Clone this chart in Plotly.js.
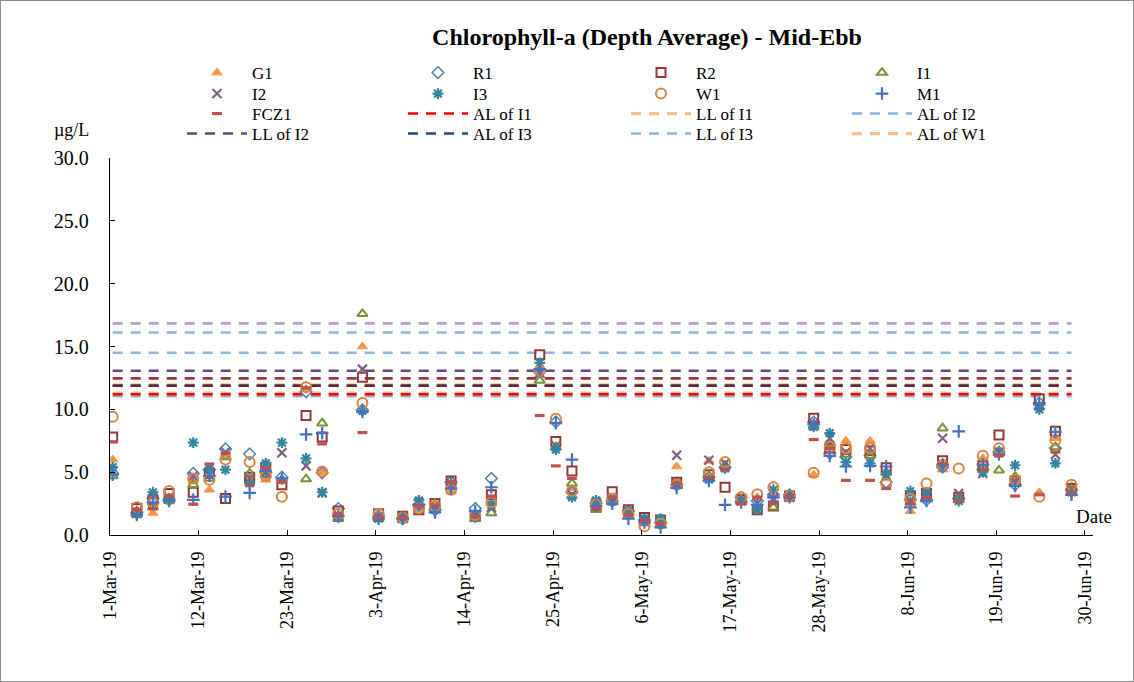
<!DOCTYPE html>
<html><head><meta charset="utf-8">
<script src="https://cdn.plot.ly/plotly-3.0.1.min.js"></script>
<style>
html,body{margin:0;padding:0;background:#fff}
#chart{width:1134px;height:682px;position:absolute;left:0;top:0}
#frame{position:absolute;left:0;top:0;width:1134px;height:682px;box-sizing:border-box;border:1px solid #8c8c8c;pointer-events:none}
</style>
</head><body><div id="chart"></div><div id="frame"></div>
<script>
// Sampling dates (sampling time ~08:00)
const dates = ['2019-03-01','2019-03-04','2019-03-06','2019-03-08','2019-03-11','2019-03-13','2019-03-15','2019-03-18','2019-03-20','2019-03-22','2019-03-25','2019-03-27','2019-03-29',
 '2019-04-01','2019-04-03','2019-04-06','2019-04-08','2019-04-10','2019-04-12','2019-04-15','2019-04-17','2019-04-23','2019-04-25','2019-04-27','2019-04-30',
 '2019-05-02','2019-05-04','2019-05-06','2019-05-08','2019-05-10','2019-05-14','2019-05-16','2019-05-18','2019-05-20','2019-05-22','2019-05-24','2019-05-27','2019-05-29','2019-05-31',
 '2019-06-03','2019-06-05','2019-06-08','2019-06-10','2019-06-12','2019-06-14','2019-06-17','2019-06-19','2019-06-21','2019-06-24','2019-06-26','2019-06-28'];
const sampleTime = ' 08:00';

const G1   = [6.0,2.0,1.75,3.0,4.3,3.6,6.3,4.6,4.4,4.3,11.6,5.0,1.4, 15.0,1.6,1.4,2.0,2.4,3.5,1.3,2.5,13.0,7.0,3.7,2.2, 2.8,1.6,0.9,0.8,5.45,5.9,5.5,2.9,3.0,3.1,3.1,4.8,7.1,7.5, 7.5,4.5,1.9,3.0,5.2,2.8,6.1,6.7,4.1,3.4,7.7,3.9];
const R1   = [4.9,1.8,2.9,2.8,4.9,5.2,6.85,6.45,5.0,4.6,11.4,4.95,2.1, 9.95,1.5,1.3,2.4,2.0,4.2,2.1,4.5,13.0,9.0,3.4,2.5, 2.7,1.9,1.2,1.0,4.0,4.6,5.4,3.0,2.7,3.2,3.2,9.0,6.5,6.2, 6.3,4.2,2.8,2.8,5.4,2.9,5.2,6.6,4.0,10.5,6.9,3.6];
const R2   = [7.8,2.1,2.8,3.3,3.4,4.9,2.9,4.6,5.4,4.0,9.5,7.8,1.9, 12.55,1.7,1.5,2.0,2.5,4.3,1.5,3.2,14.35,7.45,5.1,2.3, 3.45,2.0,1.4,1.2,4.2,4.8,3.8,2.8,2.0,2.3,3.1,9.3,6.9,6.8, 6.7,5.35,3.1,3.3,5.9,3.0,5.5,7.95,4.3,10.85,8.25,3.7];
const I1   = [4.7,1.6,2.2,2.7,4.0,4.5,6.2,4.9,4.8,4.4,4.45,8.9,1.3, 17.6,1.3,1.2,2.5,2.5,3.9,1.3,1.75,12.3,7.0,4.1,2.0, 2.6,1.8,1.0,1.1,4.0,4.7,5.5,2.8,2.2,2.2,2.9,8.6,7.3,6.4, 6.3,5.0,2.6,2.9,8.5,2.8,5.3,5.15,4.65,10.2,7.0,3.6];
const I2   = [5.1,1.8,3.1,3.0,4.7,4.8,6.6,4.5,5.0,6.55,5.5,3.35,1.5, 13.2,1.4,1.4,2.6,2.2,4.0,1.6,2.2,12.9,7.1,3.2,2.6, 3.0,1.7,1.1,1.0,6.35,5.95,5.7,2.7,2.5,2.9,3.0,8.9,7.7,6.6, 6.9,4.7,2.7,3.1,7.7,3.3,4.9,6.6,4.2,10.3,6.4,3.5];
const I3   = [5.4,1.7,3.4,2.9,7.35,5.3,5.2,4.1,5.7,7.35,6.1,3.4,1.4, 9.9,1.3,1.3,2.75,2.0,4.1,1.4,2.4,13.7,6.8,3.0,2.75, 2.7,1.9,1.3,1.3,4.1,4.4,5.3,2.7,2.0,3.6,3.2,8.6,8.1,5.8, 5.7,4.8,3.5,3.4,5.5,2.7,5.0,6.5,5.55,10.0,5.7,3.4];
const W1   = [9.4,2.2,2.5,3.5,4.5,4.4,6.0,5.8,4.7,3.05,11.75,5.05,1.7, 10.5,1.7,1.4,2.1,2.3,3.6,1.6,2.6,13.1,9.25,3.5,2.4, 2.9,1.7,0.7,0.9,4.0,5.0,5.8,3.0,3.25,3.8,3.1,4.95,7.0,6.9, 6.9,4.1,2.9,4.1,5.6,5.3,6.3,6.9,4.4,3.05,7.55,4.0];
const M1   = [4.8,1.6,2.6,2.7,2.8,4.7,3.05,3.35,5.1,4.5,8.0,8.1,1.5, 9.8,1.3,1.3,2.4,1.8,3.7,1.9,3.8,13.2,8.9,6.0,2.3, 2.5,1.3,1.0,0.6,3.75,4.3,2.4,2.6,2.4,3.0,3.0,8.8,6.3,5.45, 5.5,5.45,2.2,2.7,5.6,8.25,5.6,6.4,3.9,10.4,8.2,3.2];
const FCZ1 = [7.4,2.0,2.1,3.1,2.45,5.65,6.5,4.0,5.3,4.2,11.7,7.25,1.6, 8.15,1.4,1.4,2.3,2.4,4.2,1.5,3.1,9.5,5.5,4.5,2.1, 3.0,1.6,1.2,0.9,4.1,4.6,5.2,2.5,3.0,2.5,3.1,7.6,6.9,4.35, 4.35,3.7,2.5,3.0,5.7,2.7,5.2,6.3,3.1,3.2,6.6,3.4];

// Limit levels (µg/L)
const limitNames  = ['AL of I1','LL of I1','AL of I2','LL of I2','AL of I3','LL of I3','AL of W1','LL of W1','AL of M1','LL of M1','AL of R1'];
const limitValues = [11.2, 11.95, 14.5, 13.07, 11.88, 16.12, 11.3, 12.46, 16.84, 11.88, 11.05];

const tickDates  = ['2019-03-01','2019-03-12','2019-03-23','2019-04-03','2019-04-14','2019-04-25','2019-05-06','2019-05-17','2019-05-28','2019-06-08','2019-06-19','2019-06-30'];
const tickLabels = ['1-Mar-19','12-Mar-19','23-Mar-19','3-Apr-19','14-Apr-19','25-Apr-19','6-May-19','17-May-19','28-May-19','8-Jun-19','19-Jun-19','30-Jun-19'];

// legend grid (row-major)
const legendOrder = ['G1','R1','R2','I1','I2','I3','W1','M1','FCZ1','AL of I1','LL of I1','AL of I2','LL of I2','AL of I3','LL of I3','AL of W1'];

const FONT = 'Liberation Serif, Times New Roman, serif';
const xs = dates.map(d => d + sampleTime);

function legendFor(name) {
  const k = legendOrder.indexOf(name);
  return k <= 0 ? 'legend' : 'legend' + (k + 1);
}

const lineStyle = {
  'AL of I1': ['#FF0000', 2.6, true],
  'LL of I1': ['#FAC090', 3.2, true],
  'AL of I2': ['#8DB4E2', 2.6, true],
  'LL of I2': ['#604A7B', 2.6, true],
  'AL of I3': ['#1F497D', 2.6, true],
  'LL of I3': ['#8DB4E2', 2.6, true],
  'AL of W1': ['#FAC090', 3.2, true],
  'LL of W1': ['#953735', 2.6, false],
  'AL of M1': ['#B3A2C7', 2.6, false],
  'LL of M1': ['#632523', 2.2, false],
  'AL of R1': ['#8DB4E2', 2.6, false]
};
const drawOrder = ['AL of R1','AL of W1','AL of I1','LL of I1','AL of I3','LL of M1','LL of W1','LL of I2','AL of I2','LL of I3','AL of M1'];

const traces = [];
drawOrder.forEach(name => {
  const i = limitNames.indexOf(name);
  const s = lineStyle[name];
  traces.push({
    type: 'scatter', mode: 'lines', name: name,
    x: [xs[0], xs[xs.length - 1]], y: [limitValues[i], limitValues[i]],
    line: {color: s[0], width: s[1], dash: '10px,8px'},
    legend: s[2] ? legendFor(name) : 'legend', showlegend: s[2], hoverinfo: 'skip'
  });
});

function pts(name, y, symbol, color, size, lw) {
  traces.push({
    type: 'scatter', mode: 'markers', name: name, x: xs, y: y,
    marker: {symbol: symbol, color: color, size: size, line: {color: color, width: lw}},
    legend: legendFor(name)
  });
}
pts('G1',   G1,   'triangle-up',       '#F79646', 9, 1);
pts('R1',   R1,   'diamond-open',      '#4F81BD', 9, 1.5);
pts('R2',   R2,   'square-open',       '#953735', 9, 2);
pts('I1',   I1,   'triangle-up-open',  '#77933C', 9, 2);
pts('I2',   I2,   'x-thin-open',       '#7F6084', 9, 2.2);
pts('I3',   I3,   'asterisk-open',     '#31859C', 9, 2.2);
pts('W1',   W1,   'circle-open',       '#E0823D', 10, 2);
pts('M1',   M1,   'cross-thin-open',   '#4472C4', 9, 2.2);
pts('FCZ1', FCZ1, 'line-ew-open',      '#C0504D', 7, 3.2);

const PL = 110, PR = 41, PT = 158, PB = 147;
const pw = 1134 - PL - PR, ph = 682 - PT - PB;
function lx(px){ return (px - PL) / pw; }
function ly(py){ return (682 - PB - py) / ph; }

const ITEMW = 60;
const colText = [252, 473, 696, 917];
const rowY = [73, 94, 114, 134];

const layout = {
  width: 1134, height: 682,
  margin: {l: PL, r: PR, t: PT, b: PB},
  paper_bgcolor: '#fff', plot_bgcolor: '#fff',
  font: {family: FONT, color: '#000'},
  title: {text: '<b>Chlorophyll-a (Depth Average) - Mid-Ebb</b>', font: {family: FONT, size: 24, color: '#000'},
          x: 647/1134, xanchor: 'center', y: 1 - 37/682, yanchor: 'middle'},
  xaxis: {type: 'date', range: ['2019-03-01', '2019-07-01'], tickmode: 'array', tickvals: tickDates, ticktext: tickLabels,
          tickangle: -90, ticks: 'inside', ticklen: 5, tickcolor: '#000', showline: true, linecolor: '#000', linewidth: 1.3,
          showgrid: false, zeroline: false, tickfont: {family: FONT, size: 18, color: '#000'}, ticklabelstandoff: 8},
  yaxis: {range: [0, 30], dtick: 5, tick0: 0, tickformat: '.1f', ticks: 'inside', ticklen: 5, tickcolor: '#000',
          showline: true, linecolor: '#000', linewidth: 1.3, showgrid: false, zeroline: false,
          tickfont: {family: FONT, size: 20, color: '#000'}, ticklabelstandoff: 16},
  annotations: [
    {text: 'µg/L', xref: 'paper', yref: 'paper', x: lx(52), y: ly(130), xanchor: 'left', yanchor: 'middle', showarrow: false,
     font: {family: FONT, size: 18, color: '#000'}},
    {text: 'Date', xref: 'paper', yref: 'paper', x: lx(1074), y: ly(516), xanchor: 'left', yanchor: 'middle', showarrow: false,
     font: {family: FONT, size: 19, color: '#000'}}
  ],
  showlegend: true
};
legendOrder.forEach((name, k) => {
  const key = k === 0 ? 'legend' : 'legend' + (k + 1);
  const r = Math.floor(k / 4), c = k % 4;
  layout[key] = {orientation: 'v', xanchor: 'left', yanchor: 'middle',
    x: lx(colText[c] - ITEMW - 10), y: ly(rowY[r]), bgcolor: 'rgba(0,0,0,0)', borderwidth: 0,
    font: {family: FONT, size: 17, color: '#000'}, itemwidth: ITEMW, tracegroupgap: 0};
});

Plotly.newPlot('chart', traces, layout, {staticPlot: true});
</script></body></html>
